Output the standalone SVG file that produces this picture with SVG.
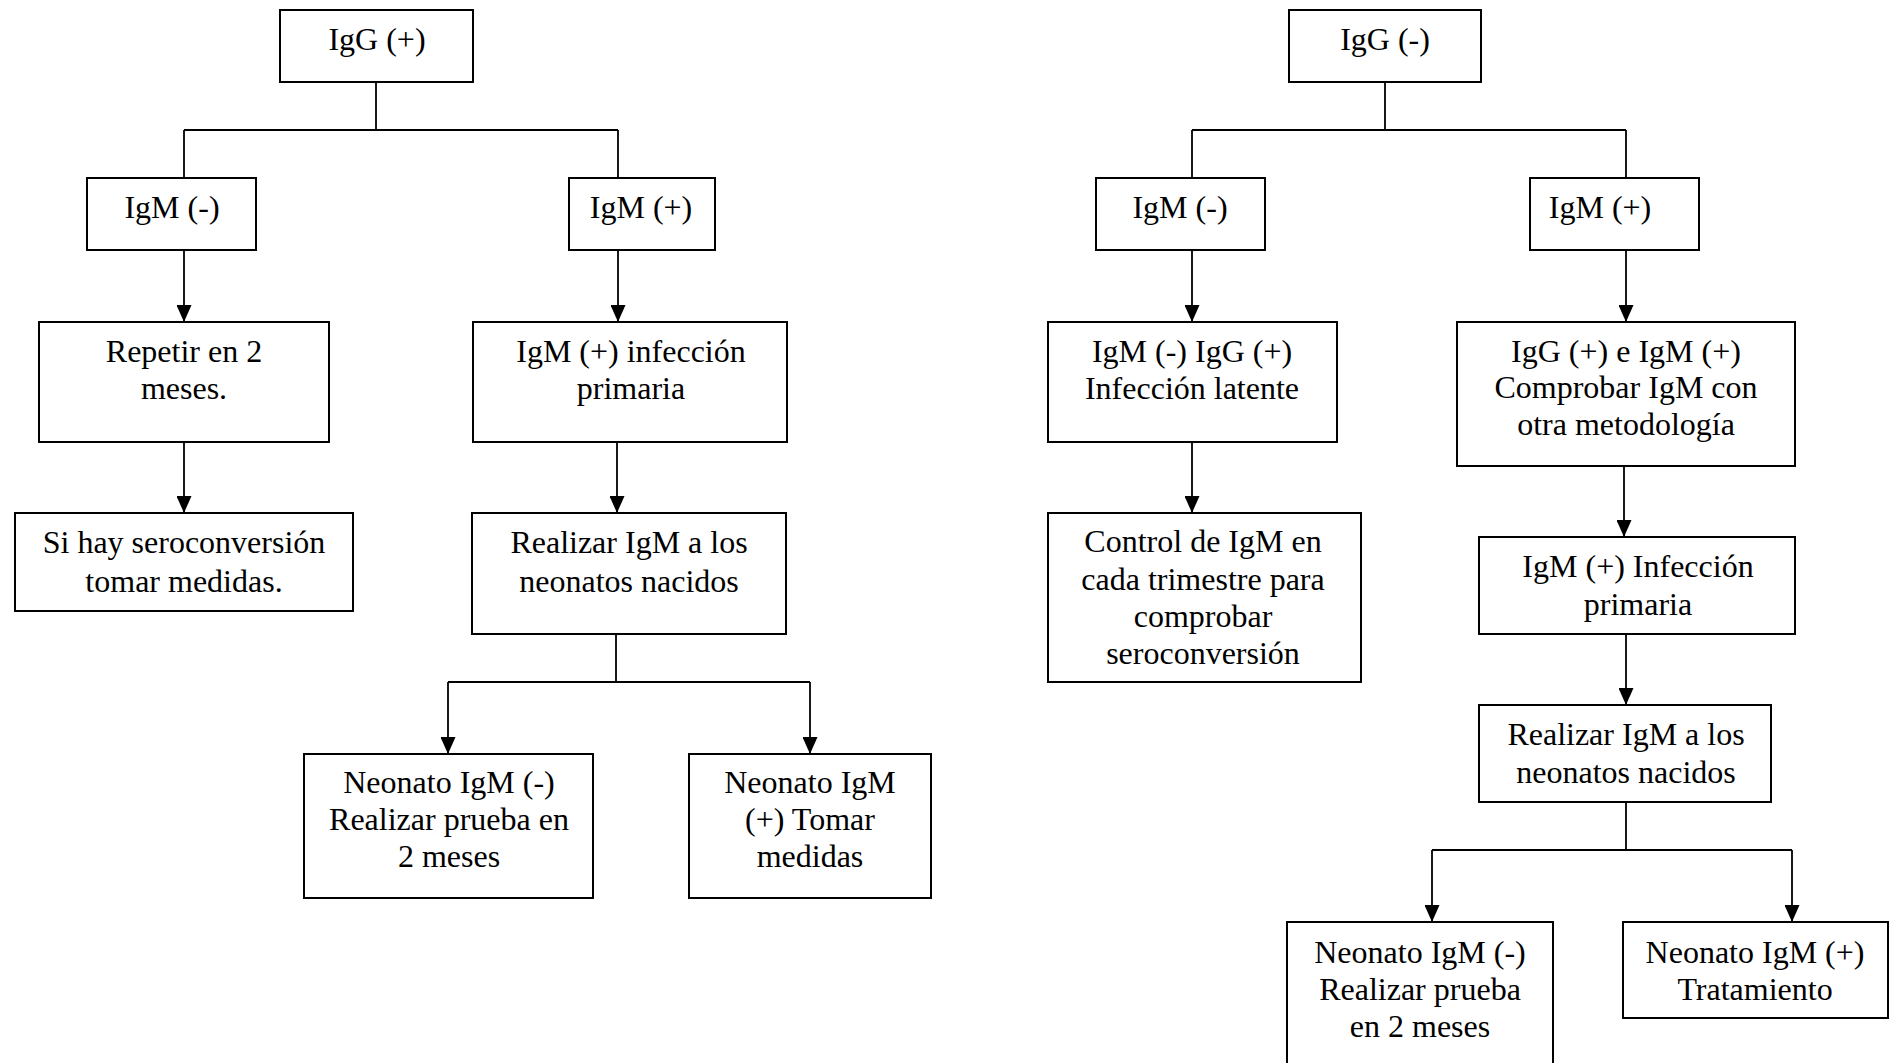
<svg xmlns="http://www.w3.org/2000/svg" width="1894" height="1063" viewBox="0 0 1894 1063">
<style>
.box{fill:#fff;stroke:#000;stroke-width:2}
.t{font-family:"Liberation Serif","Times New Roman",serif;font-size:32px;fill:#000;text-anchor:middle}
.c{fill:none;stroke:#000;stroke-width:1.8}
.a{fill:none;stroke:#000;stroke-width:1.8;marker-end:url(#ah)}
</style>
<defs>
<marker id="ah" viewBox="0 0 17 15" refX="17" refY="7.5" markerWidth="17" markerHeight="15" markerUnits="userSpaceOnUse" orient="auto">
<path d="M0,0 L17,7.5 L0,15 z" fill="#000"/>
</marker>
</defs>
<rect width="1894" height="1063" fill="#fff"/>
<g id="connectors">
<path class="c" d="M376,82 V130 M184,130 H618 M184,130 V178 M618,130 V178"/>
<path class="a" d="M184,250 V322"/>
<path class="a" d="M618,250 V322"/>
<path class="a" d="M184,442 V513"/>
<path class="a" d="M617,442 V513"/>
<path class="c" d="M616,634 V682 M448,682 H810"/>
<path class="a" d="M448,682 V754"/>
<path class="a" d="M810,682 V754"/>
<path class="c" d="M1385,82 V130 M1192,130 H1626 M1192,130 V178 M1626,130 V178"/>
<path class="a" d="M1192,250 V322"/>
<path class="a" d="M1626,250 V322"/>
<path class="a" d="M1192,442 V513"/>
<path class="a" d="M1624,466 V537"/>
<path class="a" d="M1626,634 V705"/>
<path class="c" d="M1626,802 V850 M1432,850 H1792"/>
<path class="a" d="M1432,850 V922"/>
<path class="a" d="M1792,850 V922"/>
</g>
<g id="n1"><rect class="box" x="280" y="10" width="193" height="72"/><text class="t" x="377" y="50">IgG (+)</text></g>
<g id="n2"><rect class="box" x="87" y="178" width="169" height="72"/><text class="t" x="172" y="218">IgM (-)</text></g>
<g id="n3"><rect class="box" x="569" y="178" width="146" height="72"/><text class="t" x="641" y="218">IgM (+)</text></g>
<g id="n4"><rect class="box" x="39" y="322" width="290" height="120"/><text class="t" x="184" y="362">Repetir en 2</text><text class="t" x="184" y="399">meses.</text></g>
<g id="n5"><rect class="box" x="473" y="322" width="314" height="120"/><text class="t" x="631" y="362">IgM (+) infección</text><text class="t" x="631" y="399">primaria</text></g>
<g id="n6"><rect class="box" x="15" y="513" width="338" height="98"/><text class="t" x="184" y="553">Si hay seroconversión</text><text class="t" x="184" y="592">tomar medidas.</text></g>
<g id="n7"><rect class="box" x="472" y="513" width="314" height="121"/><text class="t" x="629" y="553">Realizar IgM a los</text><text class="t" x="629" y="592">neonatos nacidos</text></g>
<g id="n8"><rect class="box" x="304" y="754" width="289" height="144"/><text class="t" x="449" y="793">Neonato IgM (-)</text><text class="t" x="449" y="830">Realizar prueba en</text><text class="t" x="449" y="867">2 meses</text></g>
<g id="n9"><rect class="box" x="689" y="754" width="242" height="144"/><text class="t" x="810" y="793">Neonato IgM</text><text class="t" x="810" y="830">(+) Tomar</text><text class="t" x="810" y="867">medidas</text></g>
<g id="n10"><rect class="box" x="1289" y="10" width="192" height="72"/><text class="t" x="1385" y="50">IgG (-)</text></g>
<g id="n11"><rect class="box" x="1096" y="178" width="169" height="72"/><text class="t" x="1180" y="218">IgM (-)</text></g>
<g id="n12"><rect class="box" x="1530" y="178" width="169" height="72"/><text class="t" x="1600" y="218">IgM (+)</text></g>
<g id="n13"><rect class="box" x="1048" y="322" width="289" height="120"/><text class="t" x="1192" y="362">IgM (-) IgG (+)</text><text class="t" x="1192" y="399">Infección latente</text></g>
<g id="n14"><rect class="box" x="1457" y="322" width="338" height="144"/><text class="t" x="1626" y="362">IgG (+) e IgM (+)</text><text class="t" x="1626" y="398">Comprobar IgM con</text><text class="t" x="1626" y="435">otra metodología</text></g>
<g id="n15"><rect class="box" x="1048" y="513" width="313" height="169"/><text class="t" x="1203" y="552">Control de IgM en</text><text class="t" x="1203" y="590">cada trimestre para</text><text class="t" x="1203" y="627">comprobar</text><text class="t" x="1203" y="664">seroconversión</text></g>
<g id="n16"><rect class="box" x="1479" y="537" width="316" height="97"/><text class="t" x="1638" y="577">IgM (+) Infección</text><text class="t" x="1638" y="615">primaria</text></g>
<g id="n17"><rect class="box" x="1479" y="705" width="292" height="97"/><text class="t" x="1626" y="745">Realizar IgM a los</text><text class="t" x="1626" y="783">neonatos nacidos</text></g>
<g id="n18"><rect class="box" x="1287" y="922" width="266" height="160"/><text class="t" x="1420" y="963">Neonato IgM (-)</text><text class="t" x="1420" y="1000">Realizar prueba</text><text class="t" x="1420" y="1037">en 2 meses</text></g>
<g id="n19"><rect class="box" x="1623" y="922" width="265" height="96"/><text class="t" x="1755" y="963">Neonato IgM (+)</text><text class="t" x="1755" y="1000">Tratamiento</text></g>
</svg>
